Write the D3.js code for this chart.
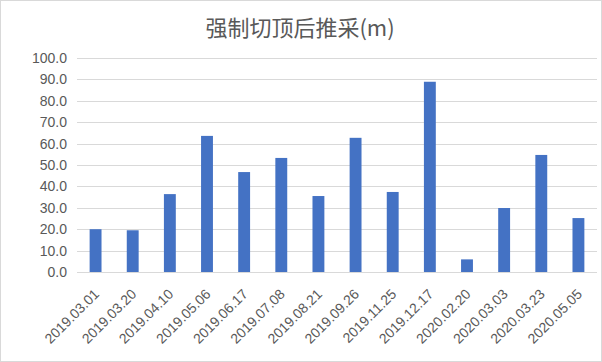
<!DOCTYPE html>
<html><head><meta charset="utf-8">
<script src="https://cdn.jsdelivr.net/npm/d3@7"></script>
<style>body{margin:0;background:#fff;}svg{display:block;}</style>
</head><body>
<svg id="c" width="602" height="362"></svg>
<script>
const title = "强制切顶后推采(m)";
const categories = ["2019.03.01","2019.03.20","2019.04.10","2019.05.06","2019.06.17","2019.07.08","2019.08.21","2019.09.26","2019.11.25","2019.12.17","2020.02.20","2020.03.03","2020.03.23","2020.05.05"];
const values = [20.0,19.5,36.4,63.6,46.7,53.3,35.5,62.7,37.4,88.9,5.9,29.9,54.7,25.2];
const yTicks = [0,10,20,30,40,50,60,70,80,90,100];

const svg = d3.select("#c");
const font = "'Liberation Sans', Arial, sans-serif";
svg.append("rect").attr("x",0.5).attr("y",0.5).attr("width",601).attr("height",361)
  .attr("fill","#fff").attr("stroke","#d9d9d9");

const m = {l:77, r:597, t:58, b:272};
const x = d3.scaleBand().domain(categories).range([m.l, m.r]).paddingInner(0.68).paddingOuter(0.34);
const y = d3.scaleLinear().domain([0,100]).range([m.b, m.t]);

svg.append("text").attr("x",300).attr("y",36).attr("text-anchor","middle")
  .attr("font-family","'Noto Sans CJK SC', sans-serif").attr("font-size",22).attr("fill","#595959").text(title);

const g = svg.append("g");
g.selectAll("line.grid").data(yTicks).join("line")
  .attr("x1",m.l).attr("x2",m.r).attr("y1",d=>Math.round(y(d))+0.5).attr("y2",d=>Math.round(y(d))+0.5)
  .attr("stroke","#d9d9d9").attr("stroke-width",1);

const yAxis = d3.axisLeft(y).tickValues(yTicks).tickFormat(d3.format(".1f")).tickSize(0).tickPadding(10);
const ya = svg.append("g").attr("transform",`translate(${m.l},0)`).call(yAxis);
ya.select(".domain").remove();
ya.selectAll("text").attr("font-family",font).attr("font-size",14).attr("fill","#595959");

g.selectAll("rect.bar").data(values).join("rect")
  .attr("x",(d,i)=>x(categories[i])).attr("width",x.bandwidth())
  .attr("y",d=>y(d)).attr("height",d=>y(0)-y(d)).attr("fill","#4472c4");

const xAxis = d3.axisBottom(x).tickSize(0).tickPadding(0);
const xa = svg.append("g").attr("transform",`translate(0,${m.b})`).call(xAxis);
xa.select(".domain").remove();
xa.selectAll("text").attr("font-family",font).attr("font-size",14).attr("fill","#595959")
  .attr("text-anchor","end").attr("dy",null).attr("y",null)
  .attr("transform","translate(4.5,23) rotate(-45)");
</script>
</body></html>
